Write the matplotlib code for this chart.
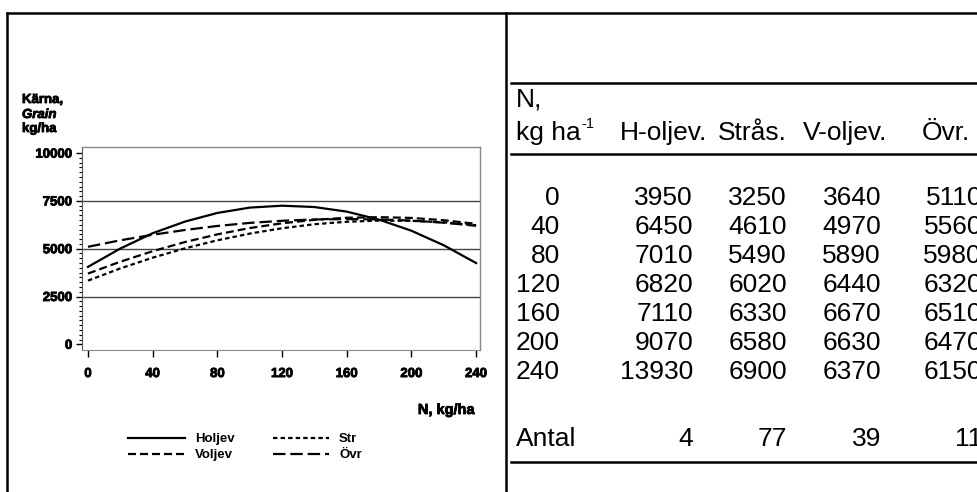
import matplotlib
matplotlib.use("Agg")
import matplotlib.pyplot as plt
import matplotlib.patheffects as pe

# curve readings (kg/ha) at every 20 kg N
curve_n = [0, 20, 40, 60, 80, 100, 120, 140, 160, 180, 200, 220, 240]
holjev = [4050, 5010, 5810, 6420, 6870, 7150, 7250, 7180, 6940, 6520, 5940, 5180, 4250]
voljev = [3700, 4320, 4870, 5350, 5750, 6080, 6330, 6510, 6620, 6650, 6610, 6490, 6300]
strr = [3330, 3970, 4530, 5020, 5440, 5790, 6070, 6280, 6410, 6470, 6460, 6380, 6230]
ovr = [5100, 5440, 5730, 5980, 6190, 6350, 6460, 6530, 6550, 6530, 6470, 6360, 6200]

# table on the right
n_levels = ["0", "40", "80", "120", "160", "200", "240"]
col_heads = ["H-oljev.", "Strås.", "V-oljev.", "Övr."]
t_holj = [3950, 6450, 7010, 6820, 7110, 9070, 13930]
t_stras = [3250, 4610, 5490, 6020, 6330, 6580, 6900]
t_volj = [3640, 4970, 5890, 6440, 6670, 6630, 6370]
t_ovr = [5110, 5560, 5980, 6320, 6510, 6470, 6150]
antal = [4, 77, 39, 11]

W, H = 978, 492
fig = plt.figure(figsize=(W / 100, H / 100), dpi=100)

# background axes in pixel coordinates for frame + table
bg = fig.add_axes([0, 0, 1, 1])
bg.set_xlim(0, W)
bg.set_ylim(H, 0)
bg.axis("off")
bg.plot([7, W], [13, 13], color="black", lw=1.8)
bg.plot([7, 7], [13, H], color="black", lw=1.8)
bg.plot([506, 506], [13, H], color="black", lw=1.8)
bg.plot([511, W], [83, 83], color="black", lw=1.8)
bg.plot([511, W], [154, 154], color="black", lw=1.8)
bg.plot([511, W], [462, 462], color="black", lw=1.8)

tf = dict(family="Liberation Sans", fontsize=19, va="center")
bg.text(516, 99, "N,", ha="left", **tf)
bg.text(516, 133, "kg ha", ha="left", **tf)
bg.text(581, 124, "-1", ha="left", va="center", family="Liberation Sans", fontsize=10.5)
head_center = [664, 752, 845, 946]
for hx, h in zip(head_center, col_heads):
    bg.text(hx, 133, h, ha="center", **tf)

col_right = [693, 787, 881, 982]
row_y0, row_dy = 198, 29
for i, n in enumerate(n_levels):
    y = row_y0 + i * row_dy
    bg.text(560, y, n, ha="right", **tf)
    for cx, col in zip(col_right, [t_holj, t_stras, t_volj, t_ovr]):
        bg.text(cx, y, str(col[i]), ha="right", **tf)
ya = 439
bg.text(516, ya, "Antal", ha="left", **tf)
for cx, a in zip(col_right, antal):
    bg.text(cx, ya, str(a), ha="right", **tf)

# chart
heavy = [pe.withStroke(linewidth=0.6, foreground="black")]
bf = dict(family="Liberation Sans", fontweight="bold", fontsize=9.5, path_effects=heavy)
bg.text(22, 100, "Kärna,", ha="left", va="center", **bf)
bg.text(22, 115, "Grain", ha="left", va="center", style="italic", **bf)
bg.text(22, 129, "kg/ha", ha="left", va="center", **bf)
bg.text(475, 410, "N, kg/ha", ha="right", va="center", family="Liberation Sans",
        fontweight="bold", fontsize=10.5, path_effects=heavy)

ax = fig.add_axes([82 / W, 1 - 350 / H, 398 / W, 203 / H])
ax.set_xlim(-3.7, 242.4)
ax.set_ylim(-298, 10320)
for y in [2500, 5000, 7500]:
    ax.axhline(y, color="#444444", lw=1.0, zorder=1)

lw = 1.6
l1, = ax.plot(curve_n, holjev, color="black", lw=lw, label="Holjev")
l2, = ax.plot(curve_n, voljev, color="black", lw=lw, dashes=(3.6, 1.8), label="Voljev")
l3, = ax.plot(curve_n, strr, color="black", lw=lw, dashes=(2.0, 1.4), label="Str")
l4, = ax.plot(curve_n, ovr, color="black", lw=lw, dashes=(5.6, 2.2), label="Övr")

ax.set_xticks([0, 40, 80, 120, 160, 200, 240])
ax.set_yticks([0, 2500, 5000, 7500, 10000])
ax.set_yticks(range(0, 10001, 250), minor=True)
ax.tick_params(axis="y", which="major", direction="out", length=4, width=1, pad=3)
ax.tick_params(axis="y", which="minor", direction="out", length=2.5, width=0.8)
ax.tick_params(axis="x", direction="out", length=5, width=1, pad=8)
for lab in ax.get_xticklabels() + ax.get_yticklabels():
    lab.set_fontfamily("Liberation Sans")
    lab.set_fontweight("bold")
    lab.set_fontsize(9.5)
    lab.set_path_effects(heavy)
for s in ["top", "right"]:
    ax.spines[s].set_color("#888888")
    ax.spines[s].set_linewidth(1.0)
ax.spines["left"].set_color("#555555")
ax.spines["bottom"].set_color("#888888")
ax.patch.set_alpha(0)

fig.legend(handles=[l1, l2, l3, l4], loc="upper left",
           bbox_to_anchor=(128 / W, 1 - 433 / H), ncol=2, frameon=False,
           borderpad=0, borderaxespad=0, handlelength=4.3, handletextpad=0.75,
           columnspacing=2.9, labelspacing=0.3,
           prop=dict(family="Liberation Sans", weight="bold", size=9.5))

fig.savefig("out.png", dpi=100)
